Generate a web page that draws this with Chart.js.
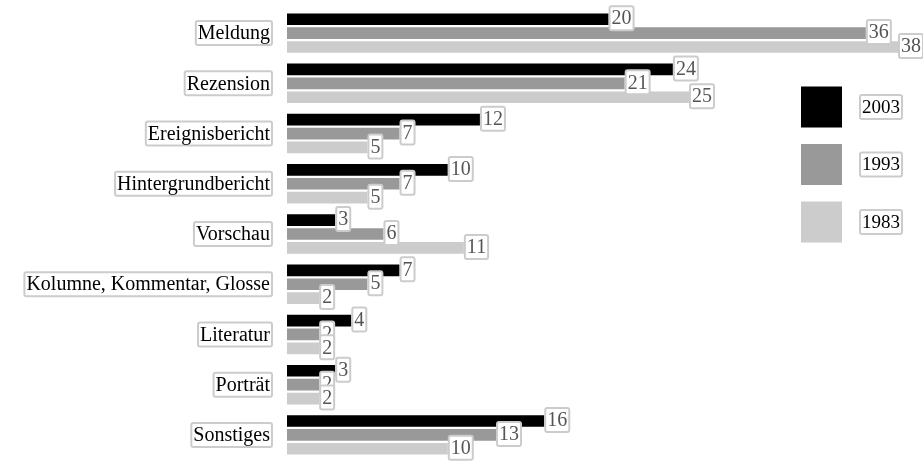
<!DOCTYPE html>
<html>
<head>
<meta charset="utf-8">
<script src="https://cdn.jsdelivr.net/npm/chart.js@4.4.1/dist/chart.umd.min.js"></script>
<style>
  html, body { margin: 0; padding: 0; background: #fff; }
  #wrap { width: 923px; height: 464px; }
</style>
</head>
<body>
<div id="wrap"><canvas id="myChart" width="923" height="464"></canvas></div>
<script>
// categories (top to bottom)
var categories = ['Meldung', 'Rezension', 'Ereignisbericht', 'Hintergrundbericht', 'Vorschau',
                  'Kolumne, Kommentar, Glosse', 'Literatur', 'Porträt', 'Sonstiges']
var years = ['2003', '1993', '1983']

var values2003 = [20, 24, 12, 10, 3, 7, 4, 3, 16]
var values1993 = [36, 21, 7, 7, 6, 5, 2, 2, 13]
var values1983 = [38, 25, 5, 5, 11, 2, 2, 2, 10]

var colors = ['#000000', '#999999', '#cccccc']
var serif = '"Liberation Serif", "Times New Roman", serif'

// draws a text with a light grey frame round it
function boxedText(ctx, text, x, y, align, size, color) {
    ctx.font = size + 'px ' + serif
    var w = ctx.measureText(text).width
    var left = align == 'right' ? x - w - 4 : x
    ctx.strokeStyle = '#cccccc'
    ctx.lineWidth = 2
    ctx.beginPath()
    ctx.roundRect(left, y - 12, w + 4, 24, 2)
    ctx.fillStyle = '#ffffff'
    ctx.fill()
    ctx.stroke()
    ctx.fillStyle = color
    ctx.textAlign = 'left'
    ctx.textBaseline = 'middle'
    ctx.fillText(text, left + 2, y + 1)
}

var labelPlugin = {
    id: 'labels',
    afterDatasetsDraw: function(chart) {
        var ctx = chart.ctx
        ctx.save()
        // category names on the left
        var yScale = chart.scales.y
        categories.forEach(function(c, i) {
            boxedText(ctx, c, 272, yScale.getPixelForValue(i), 'right', 20, '#000000')
        })
        // value labels at the bar ends
        chart.data.datasets.forEach(function(ds, d) {
            var meta = chart.getDatasetMeta(d)
            meta.data.forEach(function(bar, i) {
                boxedText(ctx, String(ds.data[i]), bar.x + 1, bar.y - 1, 'left', 20, '#555555')
            })
        })
        // legend
        chart.data.datasets.forEach(function(ds, d) {
            var cy = 107 + d * 57.5
            ctx.fillStyle = ds.backgroundColor
            ctx.fillRect(801, cy - 20.5, 41, 41)
            boxedText(ctx, ds.label, 860, cy, 'left', 19, '#000000')
        })
        ctx.restore()
    }
}

var ctx = document.getElementById('myChart')

var myChart = new Chart(ctx, {
    type: 'bar',
    data: {
        labels: categories,
        datasets: [
            { label: years[0], data: values2003, backgroundColor: colors[0] },
            { label: years[1], data: values1993, backgroundColor: colors[1] },
            { label: years[2], data: values1983, backgroundColor: colors[2] }
        ]
    },
    options: {
        indexAxis: 'y',
        responsive: false,
        animation: false,
        datasets: {
            bar: { categoryPercentage: 0.83, barPercentage: 0.84 }
        },
        layout: { padding: { left: 287, right: 25, top: 8, bottom: 4 } },
        scales: {
            x: { display: false, min: 0, max: 38 },
            y: { display: false }
        },
        plugins: {
            legend: { display: false },
            tooltip: { enabled: false }
        }
    },
    plugins: [labelPlugin]
})
</script>
</body>
</html>
